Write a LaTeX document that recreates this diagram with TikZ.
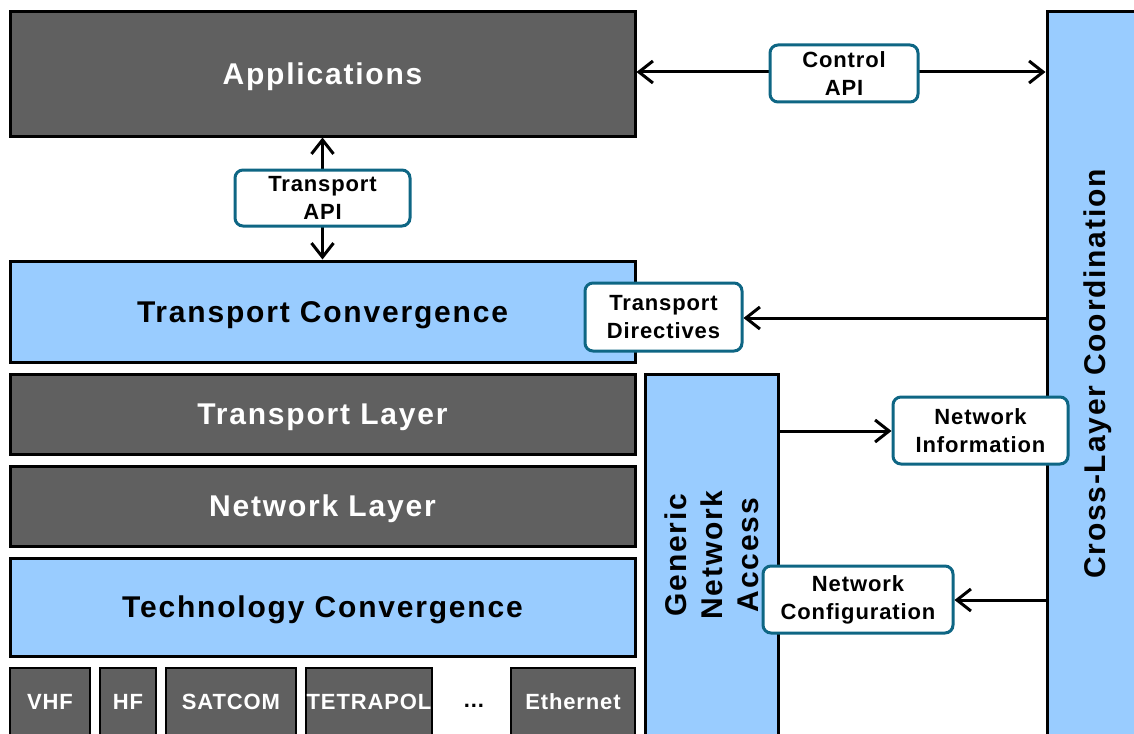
\documentclass[tikz,border=0pt]{standalone}
\usepackage{fontspec}
\setmainfont{Liberation Sans}
\newfontfamily\bigf[LetterSpace=6]{Liberation Sans}
\newfontfamily\smf[LetterSpace=4]{Liberation Sans}
\usetikzlibrary{arrows.meta}
\definecolor{dgray}{HTML}{606060}
\definecolor{lblue}{HTML}{99CCFF}
\definecolor{tealb}{HTML}{0E6684}
\begin{document}
\begin{tikzpicture}[x=0.5pt,y=-0.5pt,
  box/.style={draw=black,line width=1.5pt,inner sep=0pt},
  bigfont/.style={font=\bigf\bfseries\fontsize{15}{18}\selectfont},
  capc/.style={text height=10.7pt,text depth=0pt},
  wide/.style={minimum width=312.5pt},
  darkbox/.style={box,fill=dgray,text=white,bigfont,capc,wide},
  bluebox/.style={box,fill=lblue,text=black,bigfont,capc,wide},
  techbox/.style={box,line width=1.3pt,fill=dgray,text=white,minimum height=34pt,
    font=\smf\bfseries\fontsize{11}{13}\selectfont,text height=7.9pt,text depth=0pt},
  apibox/.style={draw=tealb,line width=1.5pt,rounded corners=4pt,fill=white,inner sep=0pt,
    align=center,font=\smf\bfseries\fontsize{11}{14}\selectfont},
  tip/.tip={Straight Barb[length=7pt,width=11pt]},
  arr/.style={line width=1.5pt,-tip},
  darr/.style={line width=1.5pt,tip-tip},
  ]
\clip (0,0) rectangle (1134,733);
% main stack
\node[darkbox,minimum height=62pt] (app) at (322.5,74) {Applications};
\node[bluebox,minimum height=50.5pt] (tc) at (322.5,311.5) {Transport Convergence};
\node[darkbox,minimum height=40pt] (tl) at (322.5,414) {Transport Layer};
\node[darkbox,minimum height=40pt] (nl) at (322.5,506) {Network Layer};
\node[bluebox,minimum height=49pt] (tec) at (322.5,607) {Technology Convergence};
% technologies
\node[techbox,minimum width=40pt] (vhf) at (50,702) {VHF};
\node[techbox,minimum width=28pt] (hf) at (128,702) {HF};
\node[techbox,minimum width=65pt] (sat) at (231,702) {SATCOM};
\node[techbox,minimum width=63pt] (tet) at (369,702) {TETRAPOL};
\node[font=\smf\bfseries\fontsize{11}{13}\selectfont] (dots) at (474,706) {...};
\node[techbox,minimum width=62pt] (eth) at (573,702) {Ethernet};
% side columns
\node[box,fill=lblue,minimum width=66.5pt,minimum height=185.5pt] (gna) at (711.5,559.5) {};
\node[rotate=90,align=center,bigfont] (gnat) at (712,555) {Generic\\Network\\Access};
\node[box,fill=lblue,minimum width=49pt,minimum height=366.5pt] (clc) at (1096,378.5) {};
\node[rotate=90,bigfont,capc] (clct) at (1095,374) {Cross-Layer Coordination};
% connectors
\draw[darr] (app.south) -- (tc.north);
\node[apibox,minimum width=87.5pt,minimum height=28pt] (tapi) at (322.5,198) {Transport\\API};
\coordinate (cy) at (0,72);
\draw[darr] (app.east |- cy) -- (clc.west |- cy);
\node[apibox,minimum width=74pt,minimum height=28.5pt] (capi) at (844,73.5) {Control\\API};
\coordinate (tdy) at (0,318);
\node[apibox,minimum width=78.5pt,minimum height=34pt] (td) at (663.5,317) {Transport\\Directives};
\draw[arr] (clc.west |- tdy) -- (td.east |- tdy);
\coordinate (niy) at (0,431);
\node[apibox,minimum width=87.5pt,minimum height=33.5pt] (ni) at (980.5,430.5) {Network\\Information};
\draw[arr] (gna.east |- niy) -- (ni.west |- niy);
\coordinate (ncy) at (0,600);
\node[apibox,minimum width=95pt,minimum height=33.5pt] (nc) at (858,599.5) {Network\\Configuration};
\draw[arr] (clc.west |- ncy) -- (nc.east |- ncy);
\end{tikzpicture}
\end{document}
